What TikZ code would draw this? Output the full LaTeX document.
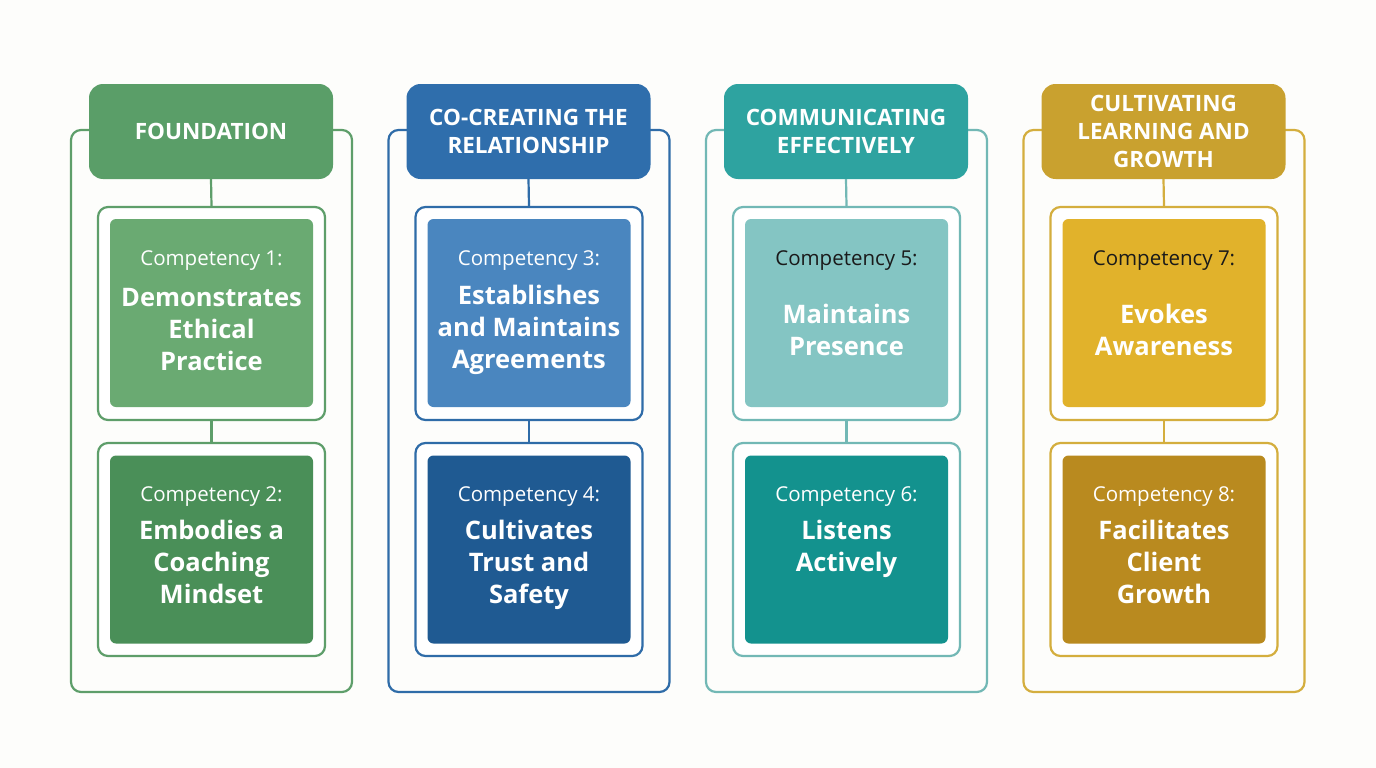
\documentclass[tikz,border=0pt]{standalone}
\usepackage{fontspec}
\setmainfont{Open Sans}
\definecolor{bg}{HTML}{FDFDFB}
\definecolor{c1line}{HTML}{5E9E6A}\definecolor{c1head}{HTML}{5A9E68}\definecolor{c1a}{HTML}{6AAA72}\definecolor{c1b}{HTML}{4A8F58}
\definecolor{c2line}{HTML}{2F6CA8}\definecolor{c2head}{HTML}{2F6EAC}\definecolor{c2a}{HTML}{4A86BF}\definecolor{c2b}{HTML}{1F5A92}
\definecolor{c3line}{HTML}{72B8B5}\definecolor{c3head}{HTML}{2EA3A0}\definecolor{c3a}{HTML}{84C5C3}\definecolor{c3b}{HTML}{13928E}
\definecolor{c4line}{HTML}{D4AE3E}\definecolor{c4head}{HTML}{C9A12F}\definecolor{c4a}{HTML}{E1B22B}\definecolor{c4b}{HTML}{B98A1F}
\definecolor{darktext}{HTML}{1A1A1A}
\tikzset{
  outerbox/.style={draw, line width=2.2pt, rounded corners=10pt, minimum width=281pt, minimum height=562pt, inner sep=0pt},
  headbox/.style={rounded corners=14pt, minimum width=244pt, minimum height=95pt, inner sep=0pt, text=white, align=center,
     font=\fontsize{22.5}{28}\selectfont\bfseries},
  framebox/.style={draw, line width=2.2pt, fill=white, rounded corners=10pt, minimum width=227pt, minimum height=213pt, inner sep=0pt},
  fillbox/.style={rounded corners=6pt, minimum width=203pt, minimum height=188pt, inner sep=0pt},
  complabel/.style={font=\fontsize{20.5}{24}\selectfont, inner sep=0pt},
  comptitle/.style={font=\fontsize{25.5}{32}\selectfont\bfseries, text=white, align=center, inner sep=0pt},
  conn/.style={line width=2.2pt}
}
\newcommand{\compcol}[9]{%
 \begin{scope}[shift={(#1,0)}]
  \node[outerbox, draw=#3line] (#2-outer) at (211.5,411) {};
  \node[headbox, fill=#3head] (#2-head) at (211,131.5) {#4};
  \node[framebox, draw=#3line] (#2-fa) at (211.5,313.5) {};
  \node[framebox, draw=#3line] (#2-fb) at (211.5,549.5) {};
  \draw[conn, #3line] (#2-head.south) -- (#2-fa.north);
  \draw[conn, #3line] (#2-fa.south) -- (#2-fb.north);
  \node[fillbox, fill=#3a] (#2-ba) at (211.5,313) {};
  \node[fillbox, fill=#3b] (#2-bb) at (211.5,549.5) {};
  \node[complabel, text=#7] (#2-la) at (211.5,261) {Competency #5:};
  \node[comptitle] (#2-ta) at (211.5,329.5) {#6};
  \node[complabel, text=white] (#2-lb) at (211.5,497) {Competency #8:};
  \node[comptitle, anchor=north] (#2-tb) at (211.5,520) {#9};
 \end{scope}}
\begin{document}
\begin{tikzpicture}[x=1pt,y=-1pt]
\fill[bg] (0,0) rectangle (1376,768);
\useasboundingbox (0,0) rectangle (1376,768);
\compcol{0}{f}{c1}{FOUNDATION}{1}{Demonstrates\\Ethical\\Practice}{white}{2}{Embodies a\\Coaching\\Mindset}
\compcol{317.5}{r}{c2}{CO-CREATING THE\\RELATIONSHIP}{3}{Establishes\\and Maintains\\Agreements}{white}{4}{Cultivates\\Trust and\\Safety}
\compcol{635}{c}{c3}{COMMUNICATING\\EFFECTIVELY}{5}{Maintains\\Presence}{darktext}{6}{Listens\\Actively}
\compcol{952.5}{g}{c4}{CULTIVATING\\LEARNING AND\\GROWTH}{7}{Evokes\\Awareness}{darktext}{8}{Facilitates\\Client\\Growth}
\end{tikzpicture}
\end{document}
